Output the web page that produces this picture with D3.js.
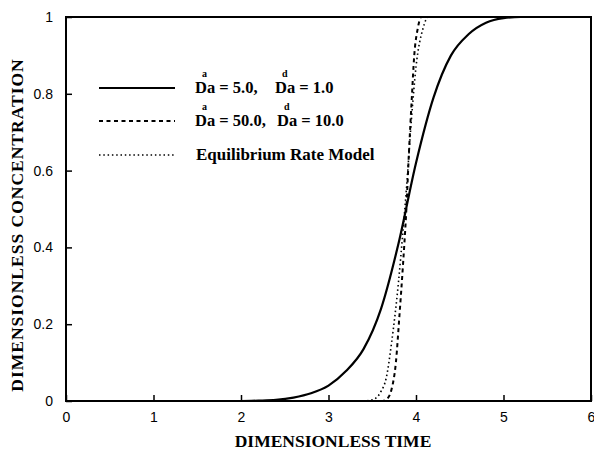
<!DOCTYPE html>
<html><head><meta charset="utf-8">
<script src="https://cdn.jsdelivr.net/npm/d3@7"></script>
<style>body{margin:0;background:#fff;overflow:hidden}</style>
</head><body>
<svg id="c" width="594" height="451"></svg>
<script>
const xTicks = [0,1,2,3,4,5,6];
const yTicks = [0,0.2,0.4,0.6,0.8,1];
const yTickLabels = ["0","0.2","0.4","0.6","0.8","1"];

const solidX = [0,2.0,2.2,2.4,2.6,2.8,3.0,3.2,3.4,3.6,3.8,4.0,4.2,4.4,4.6,4.8,5.0,5.2,5.5,6.0];
const solidY = [0,0,0.001,0.003,0.009,0.02,0.04,0.078,0.135,0.24,0.41,0.62,0.79,0.9,0.955,0.985,0.997,1.0,1.0,1.0];
const dashX = [0,3.62,3.68,3.72,3.77,3.81,3.85,3.89,3.92,3.95,3.98,4.02,4.06,6];
const dashY = [0,0,0.008,0.03,0.1,0.22,0.35,0.5,0.65,0.78,0.9,0.97,1.0,1.0];
const dotX = [0,3.4,3.5,3.6,3.66,3.72,3.8,3.85,3.89,3.95,4.0,4.08,4.14,6];
const dotY = [0,0,0.003,0.025,0.06,0.15,0.31,0.44,0.55,0.74,0.87,0.97,1.0,1.0];

const svg = d3.select("#c");
const L=66,R=591,T=17,B=401;
const x = d3.scaleLinear().domain([0,6]).range([L,R]);
const y = d3.scaleLinear().domain([0,1]).range([B,T]);

const line = d3.line().x(d=>x(d[0])).y(d=>y(d[1])).curve(d3.curveMonotoneX);
const zip=(a,b)=>a.map((v,i)=>[v,b[i]]);

svg.append("clipPath").attr("id","cp").append("rect").attr("x",L).attr("y",T-2).attr("width",R-L).attr("height",B-T+4);
const g = svg.append("g").attr("clip-path","url(#cp)");
g.append("path").attr("d",line(zip(dotX,dotY))).attr("fill","none").attr("stroke","#000").attr("stroke-width",1.6).attr("stroke-dasharray","1.5,2.8");
g.append("path").attr("d",line(zip(dashX,dashY))).attr("fill","none").attr("stroke","#000").attr("stroke-width",2).attr("stroke-dasharray","4,3.5");
g.append("path").attr("d",line(zip(solidX,solidY))).attr("fill","none").attr("stroke","#000").attr("stroke-width",2.2);

// frame
svg.append("rect").attr("x",L).attr("y",T).attr("width",R-L).attr("height",B-T).attr("fill","none").attr("stroke","#000").attr("stroke-width",2);

const tickFont = "Liberation Sans, Arial, sans-serif";
// x axis ticks (inward)
const xa = d3.axisBottom(x).tickValues(xTicks).tickSize(-6).tickPadding(11).tickFormat(d3.format("d"));
const gx = svg.append("g").attr("transform",`translate(0,${B})`).call(xa);
gx.select(".domain").remove();
gx.selectAll("line").attr("stroke-width",1.5);
gx.selectAll("text").attr("font-family",tickFont).attr("font-size",14).attr("fill","#000");

// y axis ticks (inward)
const ya = d3.axisLeft(y).tickValues(yTicks).tickSize(-6).tickPadding(13).tickFormat((d,i)=>yTickLabels[i]);
const gy = svg.append("g").attr("transform",`translate(${L},0)`).call(ya);
gy.select(".domain").remove();
gy.selectAll("line").attr("stroke-width",1.5);
gy.selectAll("text").attr("font-family",tickFont).attr("font-size",14).attr("fill","#000");

const serif = "Liberation Serif, Times New Roman, serif";
// titles
svg.append("text").attr("x",333).attr("y",447).attr("text-anchor","middle")
  .attr("font-family",serif).attr("font-weight","bold").attr("font-size",17.5).text("DIMENSIONLESS TIME");
svg.append("text").attr("transform",`translate(23,225) rotate(-90)`).attr("text-anchor","middle")
  .attr("font-family",serif).attr("font-weight","bold").attr("font-size",17.5).attr("letter-spacing",1).text("DIMENSIONLESS CONCENTRATION");

// legend
const legendRows = [
  {dash:null, w:2.2, y:88, a:["Da = 5.0,","Da = 1.0"], sup:["a","d"], x2:275},
  {dash:"4,3.5", w:2, y:121, a:["Da = 50.0,","Da = 10.0"], sup:["a","d"], x2:277},
  {dash:"1.5,2.8", w:1.6, y:155, text:"Equilibrium Rate Model"}
];
legendRows.forEach(d=>{
  svg.append("line").attr("x1",99).attr("x2",175).attr("y1",d.y).attr("y2",d.y)
    .attr("stroke","#000").attr("stroke-width",d.w).attr("stroke-dasharray",d.dash);
  const txt = (xx,s,fs,yy)=>svg.append("text").attr("x",xx).attr("y",yy)
    .attr("font-family",serif).attr("font-weight","bold").attr("font-size",fs).text(s);
  if(d.text){ txt(196,d.text,17,d.y+5); return; }
  const xs=[195,d.x2];
  d.a.forEach((s,i)=>{
    txt(xs[i],s,16.5,d.y+5);
    txt(xs[i]+7,d.sup[i],10,d.y-11);
  });
});
</script>
</body></html>
